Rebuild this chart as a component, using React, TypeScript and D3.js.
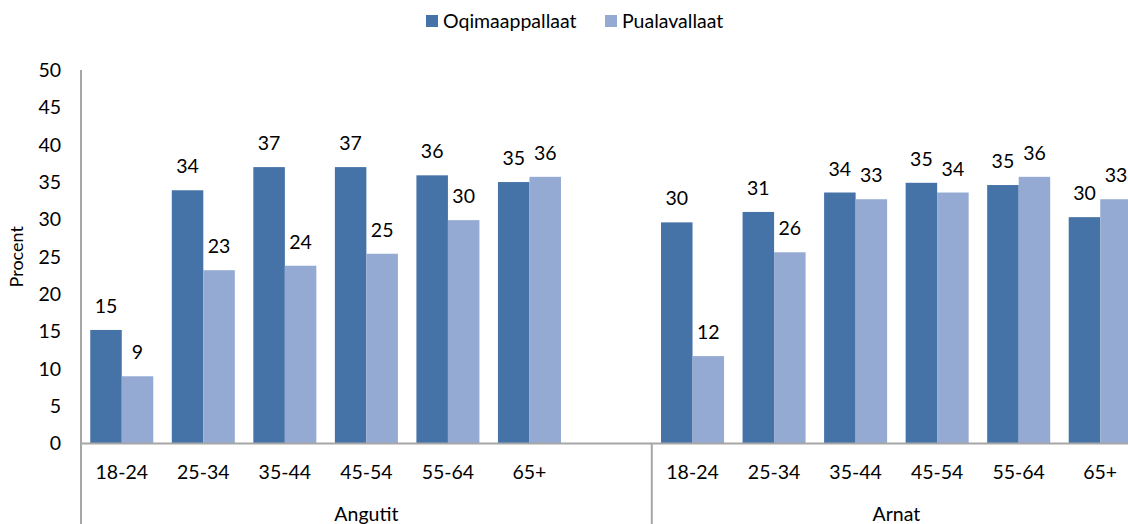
import * as d3 from 'd3'

const groups = ['Angutit', 'Arnat']
const ages = ['18-24', '25-34', '35-44', '45-54', '55-64', '65+']
const seriesNames = ['Oqimaappallaat', 'Pualavallaat']
const colors = ['#4572a7', '#95aad2']

const oqimaAngutit = [15.2, 33.9, 37.0, 37.0, 35.9, 35.0]
const pualaAngutit = [9.0, 23.2, 23.8, 25.4, 29.9, 35.7]
const oqimaArnat = [29.6, 31.0, 33.6, 34.9, 34.6, 30.3]
const pualaArnat = [11.7, 25.6, 32.7, 33.6, 35.7, 32.7]

const yTicks = [0, 5, 10, 15, 20, 25, 30, 35, 40, 45, 50]

const W = 1128
const H = 524
const margin = { top: 70, left: 81, bottom: 80 }
const plotRight = 1141
const font = 'Lato, "Open Sans", sans-serif'
const axisColor = '#a6a6a6'
const fs = 19.5

export default function App() {
  // category slots: Angutit ages + one blank slot, then Arnat ages
  const slots = [
    ...ages.map(a => `Angutit|${a}`),
    'Angutit|',
    ...ages.map(a => `Arnat|${a}`),
  ]
  const data: Record<string, number[]> = {}
  ages.forEach((a, i) => {
    data[`Angutit|${a}`] = [oqimaAngutit[i], pualaAngutit[i]]
    data[`Arnat|${a}`] = [oqimaArnat[i], pualaArnat[i]]
  })

  const zeroY = H - margin.bottom - 0.5
  const x = d3.scaleBand().domain(slots).range([margin.left, plotRight]).paddingInner(0.227).paddingOuter(0.1135)
  const xs = d3.scaleBand().domain(seriesNames).range([0, x.bandwidth()])
  const y = d3.scaleLinear().domain([0, 50]).range([zeroY, margin.top])

  const step = x.step()
  const slotLeft = (k: string) => x(k)! - (step - x.bandwidth()) / 2
  const dividerX = slotLeft(`Arnat|${ages[0]}`)

  const groupSpan = (g: string): [number, number] =>
    g === 'Angutit' ? [margin.left, dividerX] : [dividerX, plotRight]

  return (
    <svg width={W} height={H} style={{ position: 'absolute', left: 0, top: 0, background: '#fff' }}
      fontFamily={font}>
      {/* legend */}
      <g>
        <rect x={426} y={15} width={12} height={12} fill={colors[0]} />
        <text x={443} y={28} fontSize={fs} fill="#000">{seriesNames[0]}</text>
        <rect x={605} y={15} width={12} height={12} fill={colors[1]} />
        <text x={622} y={28} fontSize={fs} fill="#000">{seriesNames[1]}</text>
      </g>

      {/* y axis title */}
      <text transform={`translate(23,${(margin.top + zeroY) / 2}) rotate(-90)`} textAnchor="middle"
        fontSize={18} fill="#000">Procent</text>

      {/* y ticks */}
      {yTicks.map(t => (
        <text key={t} x={61} y={y(t)} dy="0.35em" textAnchor="end" fontSize={fs} fill="#000">{t}</text>
      ))}

      {/* bars */}
      {slots.filter(k => data[k]).map(k => (
        <g key={k} transform={`translate(${x(k)},0)`}>
          {data[k].map((v, i) => (
            <g key={i}>
              <rect x={xs(seriesNames[i])} y={y(v)} width={xs.bandwidth()} height={zeroY - y(v)} fill={colors[i]} />
              <text x={xs(seriesNames[i])! + xs.bandwidth() / 2} y={y(v) - 17} textAnchor="middle"
                fontSize={fs} fill="#000">{Math.round(v)}</text>
            </g>
          ))}
        </g>
      ))}

      {/* axes */}
      <line x1={margin.left} x2={plotRight} y1={zeroY} y2={zeroY} stroke={axisColor} strokeWidth={2} />
      <line x1={margin.left} x2={margin.left} y1={margin.top} y2={H} stroke={axisColor} strokeWidth={2} />
      <line x1={dividerX} x2={dividerX} y1={zeroY} y2={H} stroke={axisColor} strokeWidth={2} />

      {/* age labels */}
      {slots.filter(k => data[k]).map(k => (
        <text key={k} x={x(k)! + x.bandwidth() / 2} y={479} textAnchor="middle" fontSize={fs} fill="#000">
          {k.split('|')[1]}
        </text>
      ))}

      {/* group labels */}
      {groups.map(g => {
        const [a, b] = groupSpan(g)
        return (
          <text key={g} x={(a + b) / 2} y={521} textAnchor="middle" fontSize={fs} fill="#000">{g}</text>
        )
      })}
    </svg>
  )
}
